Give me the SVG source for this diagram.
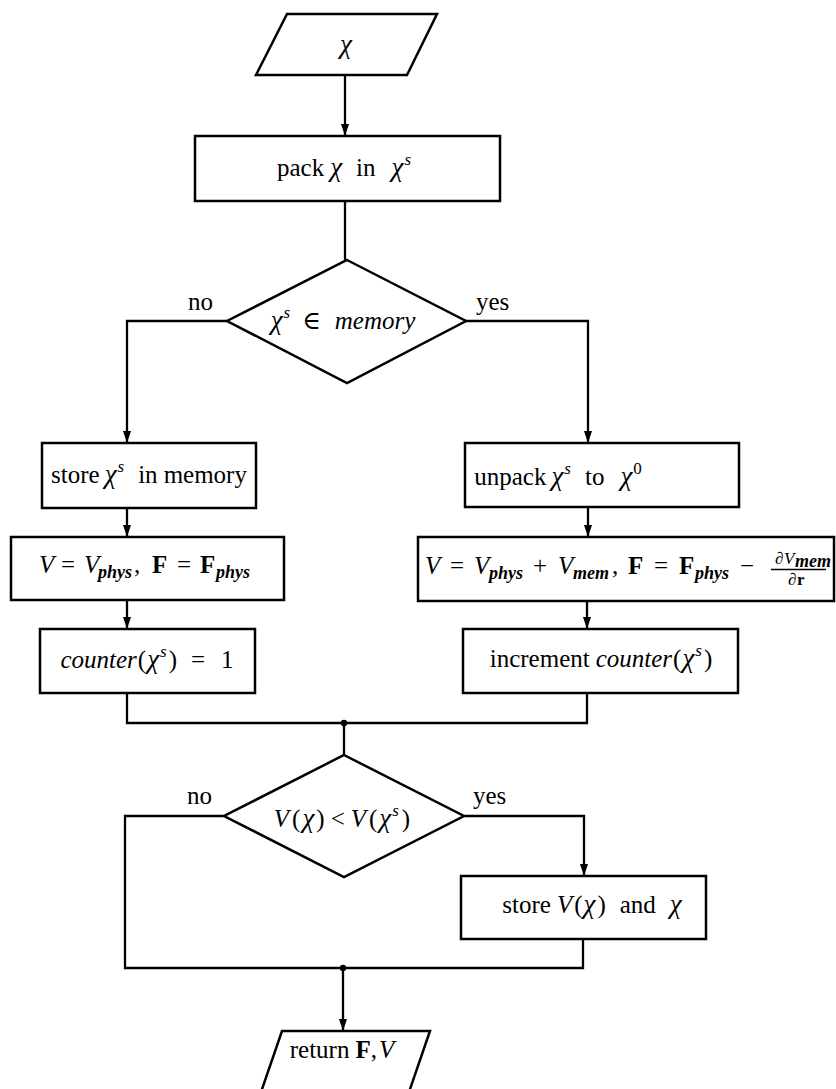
<svg xmlns="http://www.w3.org/2000/svg" width="836" height="1089" viewBox="0 0 836 1089">
<style>
.shape{fill:#fff;stroke:#000;stroke-width:2.5}
.ln{fill:none;stroke:#000;stroke-width:2.3}
text{font-family:"Liberation Serif","DejaVu Serif",serif;font-size:25px;fill:#000}
.i{font-style:italic}
.b{font-weight:bold}
.x{font-style:italic;font-size:27px}
.sm{font-size:17px}
.sub{font-size:18px;font-style:italic;font-weight:bold}
</style>
<defs>
<marker id="ah" viewBox="0 0 12 8" refX="12" refY="4" markerWidth="12" markerHeight="8" orient="auto" markerUnits="userSpaceOnUse">
<path d="M0,0 L12,4 L0,8 z" fill="#000"/>
</marker>
</defs>
<g id="connectors">
<path class="ln" d="M345,75 V136" marker-end="url(#ah)"/>
<path class="ln" d="M345,201 V260"/>
<path class="ln" d="M227,321 H127 V443" marker-end="url(#ah)"/>
<path class="ln" d="M466,321 H588 V443" marker-end="url(#ah)"/>
<path class="ln" d="M127,508 V537" marker-end="url(#ah)"/>
<path class="ln" d="M588,507 V537" marker-end="url(#ah)"/>
<path class="ln" d="M127,600 V629" marker-end="url(#ah)"/>
<path class="ln" d="M587,601 V629" marker-end="url(#ah)"/>
<path class="ln" d="M127,693 V723 H587 V693"/>
<circle cx="344" cy="723" r="3.2"/>
<path class="ln" d="M344,723 V755"/>
<path class="ln" d="M224,816 H125 V968 H583 V939"/>
<path class="ln" d="M464,816 H584 V876" marker-end="url(#ah)"/>
<circle cx="343" cy="968" r="3.2"/>
<path class="ln" d="M343,968 V1031" marker-end="url(#ah)"/>
<text x="188" y="310">no</text>
<text x="476" y="310">yes</text>
<text x="187" y="804">no</text>
<text x="473" y="804">yes</text>
</g>
<g id="input">
<polygon class="shape" points="287,14 437,14 407,75 256,75"/>
<text class="x" x="346" y="53" text-anchor="middle">χ</text>
</g>
<g id="pack">
<rect class="shape" x="195" y="136" width="305" height="65"/>
<text x="344" y="176" text-anchor="middle">pack<tspan class="x" dx="6">χ</tspan><tspan dx="14">in</tspan><tspan class="x" dx="16">χ</tspan><tspan class="i sm" dx="1" dy="-11">s</tspan></text>
</g>
<g id="decision1">
<polygon class="shape" points="347,260 466,321 347,383 227,321"/>
<text x="343" y="329" text-anchor="middle"><tspan class="x">χ</tspan><tspan class="i sm" dx="1" dy="-11">s</tspan><tspan dx="12" dy="11">∈</tspan><tspan class="i" dx="14">memory</tspan></text>
</g>
<g id="store">
<rect class="shape" x="42" y="443" width="214" height="65"/>
<text x="149" y="483" text-anchor="middle">store<tspan class="x" dx="5">χ</tspan><tspan class="i sm" dx="1" dy="-11">s</tspan><tspan dx="14" dy="11">in</tspan><tspan dx="6">memory</tspan></text>
</g>
<g id="unpack">
<rect class="shape" x="465" y="443" width="274" height="64"/>
<text x="558" y="485" text-anchor="middle">unpack<tspan class="x" dx="5">χ</tspan><tspan class="i sm" dx="1" dy="-11">s</tspan><tspan dx="14" dy="11">to</tspan><tspan class="x" dx="16">χ</tspan><tspan class="sm" dx="1" dy="-11">0</tspan></text>
</g>
<g id="assign-phys">
<rect class="shape" x="11" y="537" width="273" height="63"/>
<text y="573"><tspan class="i" x="39">V</tspan><tspan x="61">=</tspan><tspan class="i" x="84">V</tspan><tspan class="sub" x="98" y="578">phys</tspan><tspan x="134" y="573">,</tspan><tspan class="b" x="152">F</tspan><tspan x="177">=</tspan><tspan class="b" x="200">F</tspan><tspan class="sub" x="216" y="578">phys</tspan></text>
</g>
<g id="assign-mem">
<rect class="shape" x="418" y="537" width="416" height="64"/>
<text y="574"><tspan class="i" x="425">V</tspan><tspan x="450">=</tspan><tspan class="i" x="474">V</tspan><tspan class="sub" x="489" y="579">phys</tspan><tspan x="533" y="574">+</tspan><tspan class="i" x="558">V</tspan><tspan class="sub" x="573" y="579">mem</tspan><tspan x="612" y="574">,</tspan><tspan class="b" x="628">F</tspan><tspan x="654">=</tspan><tspan class="b" x="679">F</tspan><tspan class="sub" x="695" y="579">phys</tspan><tspan x="740" y="574">−</tspan><tspan class="sm" x="775" y="564">∂</tspan><tspan class="i sm" x="784">V</tspan><tspan class="sub" x="795" y="567" font-size="12">mem</tspan><tspan class="sm" x="788" y="585">∂</tspan><tspan class="b sm" x="797">r</tspan></text>
<line x1="771" y1="569.5" x2="826" y2="569.5" stroke="#000" stroke-width="1.3"/>
</g>
<g id="counter-init">
<rect class="shape" x="40" y="629" width="215" height="64"/>
<text x="147" y="668" text-anchor="middle"><tspan class="i">counter</tspan><tspan dx="1">(</tspan><tspan class="x" dx="1">χ</tspan><tspan class="i sm" dx="1" dy="-11">s</tspan><tspan dx="2" dy="11">)</tspan><tspan dx="14">=</tspan><tspan dx="16">1</tspan></text>
</g>
<g id="counter-inc">
<rect class="shape" x="463" y="629" width="275" height="64"/>
<text x="601" y="667" text-anchor="middle">increment<tspan class="i" dx="6">counter</tspan><tspan dx="1">(</tspan><tspan class="x" dx="1">χ</tspan><tspan class="i sm" dx="1" dy="-11">s</tspan><tspan dx="2" dy="11">)</tspan></text>
</g>
<g id="decision2">
<polygon class="shape" points="344,755 464,816 344,877 224,816"/>
<text x="342" y="827" text-anchor="middle"><tspan class="i">V</tspan><tspan dx="3">(</tspan><tspan class="x" dx="2">χ</tspan><tspan dx="2">)</tspan><tspan dx="6">&lt;</tspan><tspan class="i" dx="6">V</tspan><tspan dx="3">(</tspan><tspan class="x" dx="2">χ</tspan><tspan class="i sm" dx="1" dy="-11">s</tspan><tspan dx="3" dy="11">)</tspan></text>
</g>
<g id="store-best">
<rect class="shape" x="461" y="876" width="245" height="63"/>
<text x="592" y="913" text-anchor="middle">store<tspan class="i" dx="6">V</tspan><tspan dx="2">(</tspan><tspan class="x" dx="1">χ</tspan><tspan dx="2">)</tspan><tspan dx="14">and</tspan><tspan class="x" dx="14">χ</tspan></text>
</g>
<g id="output">
<polygon class="shape" points="282,1031 430,1031 408,1095 260,1095"/>
<text x="342" y="1058" text-anchor="middle">return<tspan class="b" dx="6">F</tspan>,<tspan class="i" dx="2">V</tspan></text>
</g>
</svg>
